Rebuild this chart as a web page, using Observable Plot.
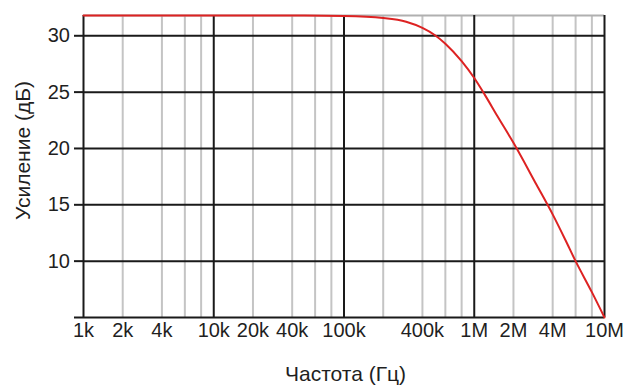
<!DOCTYPE html>
<html>
<head>
<meta charset="utf-8">
<script src="https://cdn.jsdelivr.net/npm/d3@7"></script>
<script src="https://cdn.jsdelivr.net/npm/@observablehq/plot@0.6"></script>
<style>
  html, body { margin: 0; padding: 0; background: #fff; }
</style>
</head>
<body>
<div id="chart"></div>
<script>
// Frequency response
const freq = [1e3, 1e4, 5e4, 1e5, 2e5, 3e5, 4e5, 5e5, 6e5, 8e5, 1e6, 1.2e6, 1.5e6, 2e6, 3e6, 4e6, 5e6, 6e6, 8e6, 1e7];
const gain = [31.8, 31.8, 31.79, 31.75, 31.57, 31.25, 30.7, 30.05, 29.3, 27.75, 26.25, 24.8, 22.9, 20.5, 16.8, 14.15, 11.9, 10.0, 7.25, 5.0];

const xTicks = [1e3, 2e3, 4e3, 1e4, 2e4, 4e4, 1e5, 4e5, 1e6, 2e6, 4e6, 1e7];
const xTickLabels = ["1k", "2k", "4k", "10k", "20k", "40k", "100k", "400k", "1M", "2M", "4M", "10M"];
const yTicks = [5, 10, 15, 20, 25, 30];
const majorX = [1e3, 1e4, 1e5, 1e6, 1e7];
const minorX = [2e3, 4e3, 6e3, 8e3, 2e4, 4e4, 6e4, 8e4, 2e5, 4e5, 6e5, 8e5, 2e6, 4e6, 6e6, 8e6];
const yDomain = [5, 31.8];
const xTitle = "Частота (Гц)";
const yTitle = "Усиление (дБ)";

const data = freq.map((f, i) => ({f, g: gain[i]}));
const tickData = xTicks.map((t, i) => ({t, label: xTickLabels[i]}));

const chart = Plot.plot({
  width: 624,
  height: 385,
  marginLeft: 83,
  marginRight: 20,
  marginTop: 15,
  marginBottom: 68,
  style: {fontFamily: "'Liberation Sans', Arial, sans-serif", fontSize: "20px", color: "#1f1f1f", background: "#fff", overflow: "visible"},
  x: {type: "log", domain: [1e3, 1e7], axis: null},
  y: {domain: yDomain},
  marks: [
    Plot.ruleX(minorX, {stroke: "#c4c4c4", strokeWidth: 2}),
    Plot.ruleY([yDomain[1]], {stroke: "#b0b0b0", strokeWidth: 2}),
    Plot.ruleY([10, 15, 20, 25, 30], {stroke: "#1a1a1a", strokeWidth: 2}),
    Plot.ruleX(majorX, {stroke: "#1a1a1a", strokeWidth: 2}),
    Plot.ruleY([5], {stroke: "#1a1a1a", strokeWidth: 2}),
    Plot.axisY({ticks: yTicks, tickSize: 9, tickPadding: 4.5, fontSize: 20, stroke: "#1a1a1a", strokeWidth: 2, tickFormat: d => d === 5 ? "" : String(d), label: null, fill: "#1f1f1f"}),
    Plot.text(tickData, {x: "t", text: "label", frameAnchor: "bottom", lineAnchor: "top", dy: 5, fontSize: 20, fill: "#1f1f1f"}),
    Plot.line(data, {x: "f", y: "g", stroke: "#dd2222", strokeWidth: 2, curve: "monotone-x"}),
    Plot.text([xTitle], {frameAnchor: "bottom", textAnchor: "middle", dy: 57, dx: 1.5, fontSize: 21, fill: "#1f1f1f", lineAnchor: "middle"}),
    Plot.text([yTitle], {frameAnchor: "left", textAnchor: "middle", rotate: -90, dx: -60, dy: -16, fontSize: 21, fill: "#1f1f1f", lineAnchor: "middle"})
  ]
});
document.getElementById("chart").appendChild(chart);
</script>
</body>
</html>
